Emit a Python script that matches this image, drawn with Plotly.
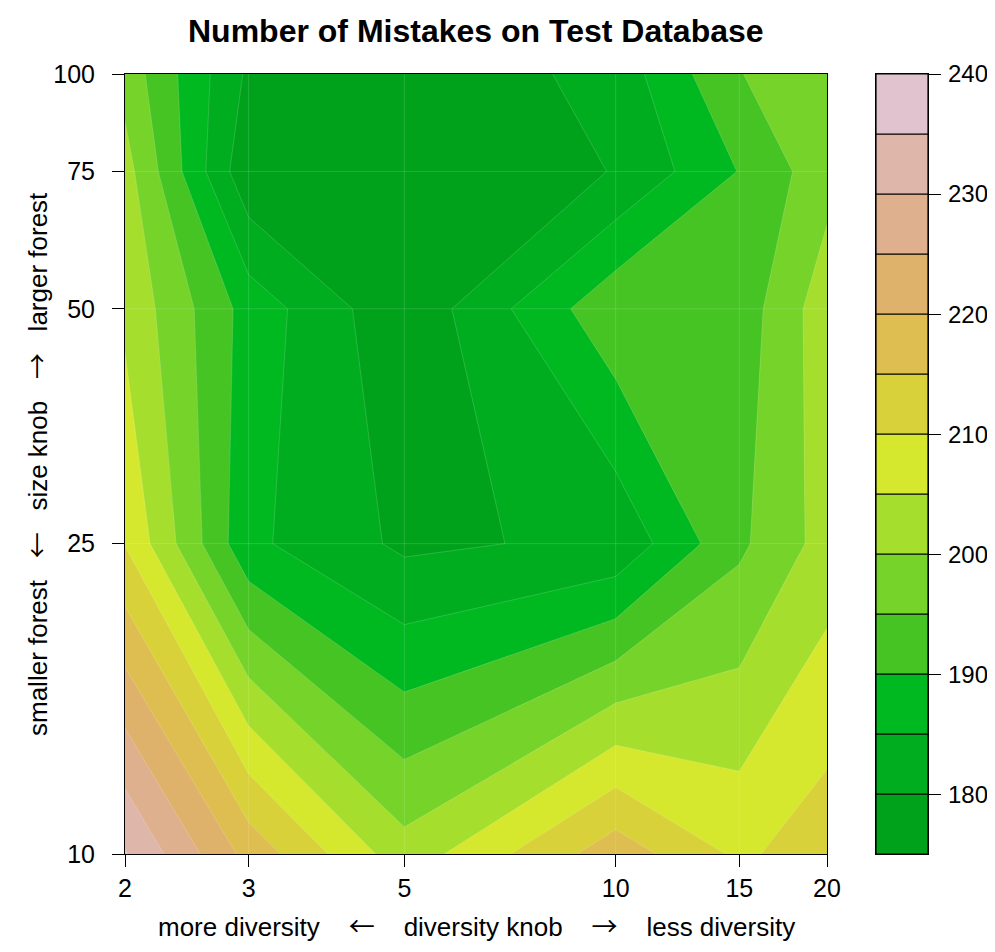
import numpy as np
import plotly.graph_objects as go

# ---------------- data ----------------
diversity = [2, 3, 5, 10, 15, 20]          # x grid (diversity knob)
forest_size = [10, 25, 50, 75, 100]        # y grid (size knob)
# rows follow forest_size, columns follow diversity
mistakes_size10 = [235.4, 218.3, 202.0, 217.9, 209.0, 213.0]
mistakes_size25 = [209.8, 186.1, 179.0, 181.1, 194.0, 202.0]
mistakes_size50 = [203.9, 188.0, 176.0, 193.8, 192.0, 203.0]
mistakes_size75 = [202.0, 176.0, 175.5, 180.2, 190.2, 198.1]
mistakes_size100 = [198.1, 179.1, 175.3, 182.0, 194.9, 197.0]

levels = list(range(175, 245, 5))          # 175 ... 240
band_colors = [
    "#00A21B", "#00AD1E", "#00B820", "#46C423", "#76D32A", "#A6DE2E",
    "#D5E82E", "#D8D13A", "#DEBE50", "#DFB26B", "#DFB08E", "#DFB6AA", "#E0C3CE",
]
x_tick_labels = ["2", "3", "5", "10", "15", "20"]
y_tick_labels = ["10", "25", "50", "75", "100"]
cbar_ticks = [180, 190, 200, 210, 220, 230, 240]

title_text = "Number of Mistakes on Test Database"
x_title_parts = ["more diversity", "\u2190", "diversity knob", "\u2192", "less diversity"]
y_title_parts = ["smaller forest", "\u2190", "size knob", "\u2192", "larger forest"]

# ---------------- figure ----------------
OFF = 8                      # page body margin
W, H = 995 - 2 * OFF, 952 - 2 * OFF
px_l, px_r, px_t, px_b = 125 - OFF, 827 - OFF, 74 - OFF, 854 - OFF
cb_l, cb_r = 876 - OFF, 928 - OFF

z = [mistakes_size10, mistakes_size25, mistakes_size50, mistakes_size75, mistakes_size100]
xs = np.log10(diversity)
ys = np.log10(forest_size)

nb = len(band_colors)
n_stops = nb + 2
colorscale = []
for k in range(n_stops):
    c = band_colors[min(max(k - 1, 0), nb - 1)]
    colorscale.append([k / (n_stops - 1), c])

font_family = "Liberation Sans, Arial, Helvetica, sans-serif"
FS = 26
TFS = 25


def label_text(parts, n_gap):
    gap = "\u00a0" * n_gap
    out = []
    for p in parts:
        if p in ("\u2190", "\u2192"):
            out.append("<span style=\"font-family:'Noto Sans CJK SC';font-size:26px\">" + p + "</span>")
        else:
            out.append(p)
    return gap.join(out)


fig = go.Figure()
fig.add_trace(go.Contour(
    x=xs, y=ys, z=z,
    autocontour=False,
    contours=dict(start=levels[0], end=levels[-1], size=5, coloring="fill"),
    colorscale=colorscale,
    line=dict(width=0.6, color="rgba(255,255,255,0.28)", smoothing=0),
    showscale=False,
    hoverinfo="skip",
))

# colour key drawn as stacked bars
fig.add_trace(go.Bar(
    x=[0] * nb,
    y=[levels[i + 1] - levels[i] for i in range(nb)],
    base=levels[:-1],
    width=1,
    marker=dict(color=band_colors, line=dict(color="black", width=1.2)),
    xaxis="x2", yaxis="y2",
    hoverinfo="skip", showlegend=False,
))

ydom = [(H - px_b) / H, (H - px_t) / H]
axis_common = dict(
    showgrid=False, zeroline=False, showline=True, mirror=True,
    linecolor="black", linewidth=1, ticks="outside", ticklen=12,
    tickwidth=1, tickcolor="black", automargin=False,
    tickfont=dict(family=font_family, size=TFS, color="black"),
)

fig.update_layout(
    width=W, height=H,
    margin=dict(l=0, r=0, t=0, b=0, autoexpand=False),
    paper_bgcolor="white", plot_bgcolor="white",
    showlegend=False,
    xaxis=dict(domain=[px_l / W, px_r / W], range=[xs[0], xs[-1]],
               tickvals=list(xs), ticktext=x_tick_labels, anchor="y",
               ticklabelstandoff=0, **axis_common),
    yaxis=dict(domain=ydom, range=[ys[0], ys[-1]],
               tickvals=list(ys), ticktext=y_tick_labels, anchor="x",
               ticklabelstandoff=12, **axis_common),
    xaxis2=dict(domain=[cb_l / W, cb_r / W], range=[-0.5, 0.5], anchor="y2",
                showticklabels=False, showgrid=False, zeroline=False,
                showline=True, mirror=True, linecolor="black", linewidth=1,
                ticks="", automargin=False),
    yaxis2=dict(domain=ydom, range=[levels[0], levels[-1]], anchor="x2",
                side="right", tickvals=cbar_ticks, showticklabels=False,
                **axis_common),
)

# colour-key tick labels
for v in cbar_ticks:
    fig.add_annotation(text=str(v), xref="paper", yref="y2",
                       x=(946 - OFF) / W, y=v, showarrow=False,
                       xanchor="left", yanchor="middle",
                       font=dict(family=font_family, size=24, color="black"))

# faint seams along the grid (as in the original rendering)
for xv in xs[1:-1]:
    fig.add_shape(type="line", xref="x", yref="y", x0=xv, x1=xv, y0=ys[0], y1=ys[-1],
                  line=dict(color="rgba(255,255,255,0.14)", width=1), layer="above")
for yv in ys[1:-1]:
    fig.add_shape(type="line", xref="x", yref="y", x0=xs[0], x1=xs[-1], y0=yv, y1=yv,
                  line=dict(color="rgba(255,255,255,0.14)", width=1), layer="above")

fig.add_annotation(text="<b>" + title_text + "</b>", xref="paper", yref="paper",
                   x=(px_l + px_r) / 2 / W, y=1 - (31 - OFF) / H, showarrow=False,
                   xanchor="center", yanchor="middle",
                   font=dict(family=font_family, size=32, color="black"))
fig.add_annotation(text=label_text(x_title_parts, 4), xref="paper", yref="paper",
                   x=(px_l + px_r) / 2 / W, y=1 - (924 - OFF) / H, showarrow=False,
                   xanchor="center", yanchor="middle",
                   font=dict(family=font_family, size=FS, color="black"))
fig.add_annotation(text=label_text(y_title_parts, 3), xref="paper", yref="paper",
                   x=(35 - OFF) / W, y=1 - (px_t + px_b) / 2 / H, showarrow=False,
                   textangle=-90, xanchor="center", yanchor="middle",
                   font=dict(family=font_family, size=FS, color="black"))

fig.write_html("out.html")
